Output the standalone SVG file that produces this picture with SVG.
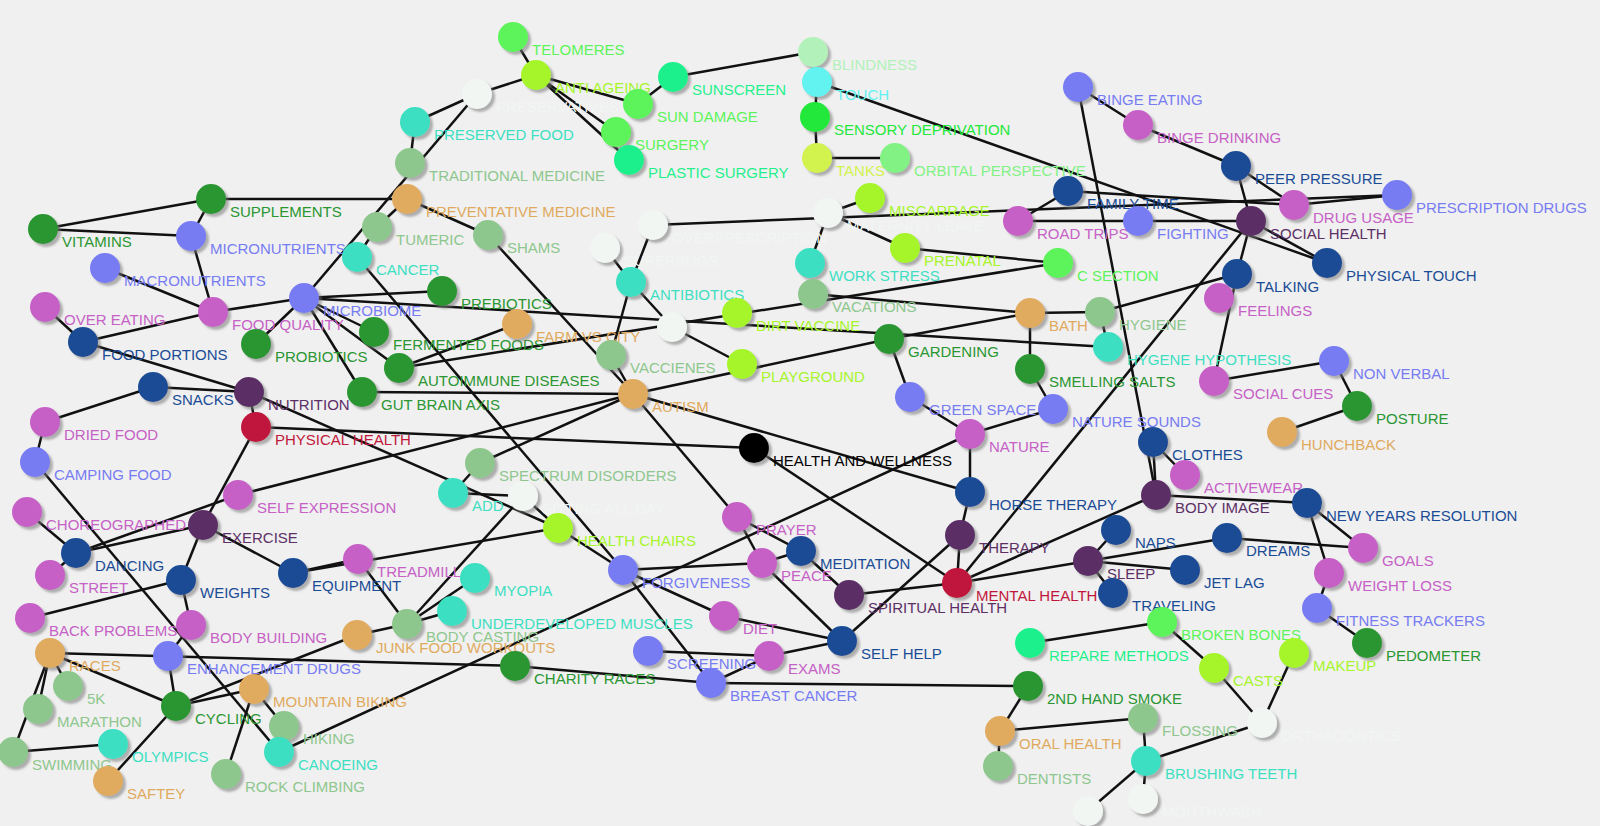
<svg xmlns="http://www.w3.org/2000/svg" width="1600" height="826" viewBox="0 0 1600 826">
<defs>
<filter id="sh" x="-50%" y="-50%" width="200%" height="200%"><feDropShadow dx="3" dy="3" stdDeviation="1.2" flood-color="#777" flood-opacity="0.55"/></filter>
</defs>
<style>
text{font-family:"Liberation Sans",Arial,sans-serif;font-size:15px}
circle{filter:url(#sh)}
#edges line{stroke:#111;stroke-width:2.5}
.dg{fill:#2a9632}.bv{fill:#777cf2}.mg{fill:#c661c6}.db{fill:#1a4c96}.pu{fill:#5c2f66}.cr{fill:#c0183c}
.tn{fill:#e0aa5e}.sg{fill:#8ec78e}.tq{fill:#3ddfc2}.yg{fill:#a6f52c}.bg{fill:#5cf45a}.mt{fill:#1ff08c}
.wh{fill:#f1f6f3}.pg{fill:#b2f2ba}.cy{fill:#62f2f0}.sd{fill:#22e83a}.ty{fill:#d2f24e}.op{fill:#82f285}.bk{fill:#000}
</style>
<rect width="1600" height="826" fill="#f0f0f0"/>
<g id="edges">
<line x1="43" y1="229" x2="211" y2="199"/>
<line x1="43" y1="229" x2="191" y2="236"/>
<line x1="211" y1="199" x2="191" y2="236"/>
<line x1="211" y1="199" x2="407" y2="199"/>
<line x1="191" y1="236" x2="213" y2="312"/>
<line x1="105" y1="268" x2="213" y2="312"/>
<line x1="304" y1="298" x2="477" y2="94"/>
<line x1="513" y1="37" x2="536" y2="75"/>
<line x1="477" y1="94" x2="536" y2="75"/>
<line x1="536" y1="75" x2="638" y2="104"/>
<line x1="536" y1="75" x2="616" y2="132"/>
<line x1="536" y1="75" x2="629" y2="160"/>
<line x1="638" y1="104" x2="673" y2="77"/>
<line x1="673" y1="77" x2="813" y2="52"/>
<line x1="477" y1="94" x2="415" y2="122"/>
<line x1="415" y1="122" x2="410" y2="163"/>
<line x1="377" y1="227" x2="407" y2="199"/>
<line x1="377" y1="227" x2="357" y2="257"/>
<line x1="407" y1="199" x2="488" y2="235"/>
<line x1="488" y1="235" x2="633" y2="394"/>
<line x1="357" y1="257" x2="623" y2="570"/>
<line x1="653" y1="225" x2="1397" y2="195"/>
<line x1="653" y1="225" x2="631" y2="282"/>
<line x1="605" y1="248" x2="631" y2="282"/>
<line x1="631" y1="282" x2="611" y2="355"/>
<line x1="631" y1="282" x2="672" y2="327"/>
<line x1="672" y1="327" x2="742" y2="364"/>
<line x1="611" y1="355" x2="633" y2="394"/>
<line x1="817" y1="82" x2="815" y2="117"/>
<line x1="815" y1="117" x2="817" y2="158"/>
<line x1="817" y1="158" x2="895" y2="158"/>
<line x1="817" y1="82" x2="1327" y2="263"/>
<line x1="828" y1="213" x2="870" y2="198"/>
<line x1="828" y1="213" x2="905" y2="248"/>
<line x1="828" y1="213" x2="810" y2="263"/>
<line x1="905" y1="248" x2="1058" y2="263"/>
<line x1="399" y1="368" x2="1058" y2="263"/>
<line x1="813" y1="294" x2="1030" y2="313"/>
<line x1="1030" y1="313" x2="1100" y2="312"/>
<line x1="1100" y1="312" x2="1237" y2="274"/>
<line x1="1100" y1="312" x2="1108" y2="347"/>
<line x1="1030" y1="313" x2="1030" y2="369"/>
<line x1="1030" y1="369" x2="1053" y2="409"/>
<line x1="1053" y1="409" x2="970" y2="434"/>
<line x1="910" y1="397" x2="970" y2="434"/>
<line x1="889" y1="339" x2="910" y2="397"/>
<line x1="633" y1="394" x2="889" y2="339"/>
<line x1="889" y1="339" x2="1030" y2="313"/>
<line x1="304" y1="298" x2="1108" y2="347"/>
<line x1="1068" y1="191" x2="1018" y2="221"/>
<line x1="1018" y1="221" x2="1138" y2="221"/>
<line x1="1068" y1="191" x2="1294" y2="205"/>
<line x1="1138" y1="221" x2="1251" y2="221"/>
<line x1="1078" y1="87" x2="1138" y2="125"/>
<line x1="1078" y1="87" x2="1156" y2="495"/>
<line x1="1138" y1="125" x2="1236" y2="166"/>
<line x1="1236" y1="166" x2="1294" y2="205"/>
<line x1="1236" y1="166" x2="1251" y2="221"/>
<line x1="1294" y1="205" x2="1397" y2="195"/>
<line x1="1251" y1="221" x2="1327" y2="263"/>
<line x1="1251" y1="221" x2="1237" y2="274"/>
<line x1="1251" y1="221" x2="957" y2="583"/>
<line x1="1237" y1="274" x2="1214" y2="381"/>
<line x1="1214" y1="381" x2="1334" y2="361"/>
<line x1="1334" y1="361" x2="1357" y2="406"/>
<line x1="1357" y1="406" x2="1282" y2="432"/>
<line x1="213" y1="312" x2="304" y2="298"/>
<line x1="213" y1="312" x2="83" y2="342"/>
<line x1="45" y1="307" x2="83" y2="342"/>
<line x1="304" y1="298" x2="442" y2="291"/>
<line x1="304" y1="298" x2="374" y2="332"/>
<line x1="304" y1="298" x2="399" y2="368"/>
<line x1="304" y1="298" x2="362" y2="392"/>
<line x1="304" y1="298" x2="256" y2="344"/>
<line x1="362" y1="392" x2="633" y2="394"/>
<line x1="83" y1="342" x2="249" y2="392"/>
<line x1="153" y1="387" x2="249" y2="392"/>
<line x1="153" y1="387" x2="45" y2="422"/>
<line x1="249" y1="392" x2="256" y2="427"/>
<line x1="249" y1="392" x2="558" y2="528"/>
<line x1="256" y1="427" x2="754" y2="448"/>
<line x1="256" y1="427" x2="203" y2="525"/>
<line x1="45" y1="422" x2="35" y2="462"/>
<line x1="35" y1="462" x2="279" y2="752"/>
<line x1="238" y1="495" x2="76" y2="553"/>
<line x1="238" y1="495" x2="633" y2="394"/>
<line x1="27" y1="512" x2="76" y2="553"/>
<line x1="203" y1="525" x2="76" y2="553"/>
<line x1="203" y1="525" x2="293" y2="573"/>
<line x1="203" y1="525" x2="181" y2="580"/>
<line x1="50" y1="575" x2="76" y2="553"/>
<line x1="181" y1="580" x2="30" y2="618"/>
<line x1="181" y1="580" x2="191" y2="625"/>
<line x1="293" y1="573" x2="358" y2="559"/>
<line x1="293" y1="573" x2="558" y2="528"/>
<line x1="358" y1="559" x2="407" y2="624"/>
<line x1="191" y1="625" x2="168" y2="656"/>
<line x1="50" y1="653" x2="515" y2="666"/>
<line x1="515" y1="666" x2="711" y2="683"/>
<line x1="50" y1="653" x2="176" y2="706"/>
<line x1="50" y1="653" x2="68" y2="686"/>
<line x1="50" y1="653" x2="38" y2="709"/>
<line x1="50" y1="653" x2="13" y2="752"/>
<line x1="168" y1="656" x2="176" y2="706"/>
<line x1="176" y1="706" x2="254" y2="689"/>
<line x1="176" y1="706" x2="357" y2="635"/>
<line x1="176" y1="706" x2="108" y2="781"/>
<line x1="254" y1="689" x2="284" y2="726"/>
<line x1="254" y1="689" x2="226" y2="774"/>
<line x1="13" y1="752" x2="113" y2="744"/>
<line x1="357" y1="635" x2="407" y2="624"/>
<line x1="970" y1="434" x2="279" y2="752"/>
<line x1="407" y1="624" x2="475" y2="578"/>
<line x1="407" y1="624" x2="452" y2="611"/>
<line x1="407" y1="624" x2="523" y2="496"/>
<line x1="558" y1="528" x2="623" y2="570"/>
<line x1="623" y1="570" x2="762" y2="563"/>
<line x1="623" y1="570" x2="724" y2="616"/>
<line x1="623" y1="570" x2="711" y2="683"/>
<line x1="648" y1="651" x2="769" y2="656"/>
<line x1="711" y1="683" x2="769" y2="656"/>
<line x1="711" y1="683" x2="1028" y2="686"/>
<line x1="724" y1="616" x2="842" y2="641"/>
<line x1="769" y1="656" x2="842" y2="641"/>
<line x1="762" y1="563" x2="842" y2="641"/>
<line x1="737" y1="517" x2="762" y2="563"/>
<line x1="737" y1="517" x2="801" y2="551"/>
<line x1="762" y1="563" x2="801" y2="551"/>
<line x1="633" y1="394" x2="737" y2="517"/>
<line x1="633" y1="394" x2="970" y2="492"/>
<line x1="801" y1="551" x2="849" y2="595"/>
<line x1="849" y1="595" x2="957" y2="583"/>
<line x1="754" y1="448" x2="957" y2="583"/>
<line x1="957" y1="583" x2="960" y2="535"/>
<line x1="957" y1="583" x2="1088" y2="561"/>
<line x1="957" y1="583" x2="1156" y2="495"/>
<line x1="842" y1="641" x2="960" y2="535"/>
<line x1="970" y1="492" x2="960" y2="535"/>
<line x1="970" y1="434" x2="970" y2="492"/>
<line x1="480" y1="463" x2="633" y2="394"/>
<line x1="453" y1="493" x2="480" y2="463"/>
<line x1="453" y1="493" x2="523" y2="496"/>
<line x1="523" y1="496" x2="558" y2="528"/>
<line x1="1153" y1="442" x2="1156" y2="495"/>
<line x1="1153" y1="442" x2="1185" y2="475"/>
<line x1="1156" y1="495" x2="1307" y2="503"/>
<line x1="1307" y1="503" x2="1363" y2="548"/>
<line x1="1307" y1="503" x2="1329" y2="573"/>
<line x1="1329" y1="573" x2="1317" y2="608"/>
<line x1="1317" y1="608" x2="1367" y2="643"/>
<line x1="1227" y1="538" x2="1363" y2="548"/>
<line x1="1088" y1="561" x2="1227" y2="538"/>
<line x1="1088" y1="561" x2="1185" y2="570"/>
<line x1="1088" y1="561" x2="1113" y2="593"/>
<line x1="1088" y1="561" x2="1116" y2="530"/>
<line x1="1030" y1="643" x2="1162" y2="622"/>
<line x1="1162" y1="622" x2="1214" y2="668"/>
<line x1="1028" y1="686" x2="1000" y2="731"/>
<line x1="1000" y1="731" x2="1143" y2="718"/>
<line x1="1000" y1="731" x2="998" y2="766"/>
<line x1="1143" y1="718" x2="1146" y2="761"/>
<line x1="1146" y1="761" x2="1262" y2="723"/>
<line x1="1146" y1="761" x2="1143" y2="799"/>
<line x1="1146" y1="761" x2="1088" y2="811"/>
<line x1="1214" y1="668" x2="1262" y2="723"/>
<line x1="1294" y1="653" x2="1262" y2="723"/>
<line x1="517" y1="324" x2="399" y2="368"/>
</g>
<g id="n-telomeres"><circle class="bg" cx="513" cy="37" r="15"/><text class="bg" x="532" y="55">TELOMERES</text></g>
<g id="n-preservatives"><circle class="wh" cx="477" cy="94" r="15"/><text class="wh" x="496" y="112">PRESERVATIVES</text></g>
<g id="n-antiageing"><circle class="yg" cx="536" cy="75" r="15"/><text class="yg" x="555" y="93">ANTI AGEING</text></g>
<g id="n-sunscreen"><circle class="mt" cx="673" cy="77" r="15"/><text class="mt" x="692" y="95">SUNSCREEN</text></g>
<g id="n-sundamage"><circle class="bg" cx="638" cy="104" r="15"/><text class="bg" x="657" y="122">SUN DAMAGE</text></g>
<g id="n-surgery"><circle class="bg" cx="616" cy="132" r="15"/><text class="bg" x="635" y="150">SURGERY</text></g>
<g id="n-plasticsurgery"><circle class="mt" cx="629" cy="160" r="15"/><text class="mt" x="648" y="178">PLASTIC SURGERY</text></g>
<g id="n-blindness"><circle class="pg" cx="813" cy="52" r="15"/><text class="pg" x="832" y="70">BLINDNESS</text></g>
<g id="n-touch"><circle class="cy" cx="817" cy="82" r="15"/><text class="cy" x="836" y="100">TOUCH</text></g>
<g id="n-sensory"><circle class="sd" cx="815" cy="117" r="15"/><text class="sd" x="834" y="135">SENSORY DEPRIVATION</text></g>
<g id="n-tanks"><circle class="ty" cx="817" cy="158" r="15"/><text class="ty" x="836" y="176">TANKS</text></g>
<g id="n-orbital"><circle class="op" cx="895" cy="158" r="15"/><text class="op" x="914" y="176">ORBITAL PERSPECTIVE</text></g>
<g id="n-preservedfood"><circle class="tq" cx="415" cy="122" r="15"/><text class="tq" x="434" y="140">PRESERVED FOOD</text></g>
<g id="n-tradmed"><circle class="sg" cx="410" cy="163" r="15"/><text class="sg" x="429" y="181">TRADITIONAL MEDICINE</text></g>
<g id="n-prevmed"><circle class="tn" cx="407" cy="199" r="15"/><text class="tn" x="426" y="217">PREVENTATIVE MEDICINE</text></g>
<g id="n-supplements"><circle class="dg" cx="211" cy="199" r="15"/><text class="dg" x="230" y="217">SUPPLEMENTS</text></g>
<g id="n-vitamins"><circle class="dg" cx="43" cy="229" r="15"/><text class="dg" x="62" y="247">VITAMINS</text></g>
<g id="n-micronutrients"><circle class="bv" cx="191" cy="236" r="15"/><text class="bv" x="210" y="254">MICRONUTRIENTS</text></g>
<g id="n-tumeric"><circle class="sg" cx="377" cy="227" r="15"/><text class="sg" x="396" y="245">TUMERIC</text></g>
<g id="n-shams"><circle class="sg" cx="488" cy="235" r="15"/><text class="sg" x="507" y="253">SHAMS</text></g>
<g id="n-macronutrients"><circle class="bv" cx="105" cy="268" r="15"/><text class="bv" x="124" y="286">MACRONUTRIENTS</text></g>
<g id="n-cancer"><circle class="tq" cx="357" cy="257" r="15"/><text class="tq" x="376" y="275">CANCER</text></g>
<g id="n-overprescription"><circle class="wh" cx="653" cy="225" r="15"/><text class="wh" x="672" y="243">OVERPRESCRIPTION</text></g>
<g id="n-superbugs"><circle class="wh" cx="605" cy="248" r="15"/><text class="wh" x="624" y="266">SUPERBUGS</text></g>
<g id="n-antibiotics"><circle class="tq" cx="631" cy="282" r="15"/><text class="tq" x="650" y="300">ANTIBIOTICS</text></g>
<g id="n-maternity"><circle class="wh" cx="828" cy="213" r="15"/><text class="wh" x="847" y="231">MATERNITY LEAVE</text></g>
<g id="n-miscarrage"><circle class="yg" cx="870" cy="198" r="15"/><text class="yg" x="889" y="216">MISCARRAGE</text></g>
<g id="n-prenatal"><circle class="yg" cx="905" cy="248" r="15"/><text class="yg" x="924" y="266">PRENATAL</text></g>
<g id="n-csection"><circle class="bg" cx="1058" cy="263" r="15"/><text class="bg" x="1077" y="281">C SECTION</text></g>
<g id="n-workstress"><circle class="tq" cx="810" cy="263" r="15"/><text class="tq" x="829" y="281">WORK STRESS</text></g>
<g id="n-familytime"><circle class="db" cx="1068" cy="191" r="15"/><text class="db" x="1087" y="209">FAMILY TIME</text></g>
<g id="n-roadtrips"><circle class="mg" cx="1018" cy="221" r="15"/><text class="mg" x="1037" y="239">ROAD TRIPS</text></g>
<g id="n-fighting"><circle class="bv" cx="1138" cy="221" r="15"/><text class="bv" x="1157" y="239">FIGHTING</text></g>
<g id="n-bingeeating"><circle class="bv" cx="1078" cy="87" r="15"/><text class="bv" x="1097" y="105">BINGE EATING</text></g>
<g id="n-bingedrinking"><circle class="mg" cx="1138" cy="125" r="15"/><text class="mg" x="1157" y="143">BINGE DRINKING</text></g>
<g id="n-peerpressure"><circle class="db" cx="1236" cy="166" r="15"/><text class="db" x="1255" y="184">PEER PRESSURE</text></g>
<g id="n-drugusage"><circle class="mg" cx="1294" cy="205" r="15"/><text class="mg" x="1313" y="223">DRUG USAGE</text></g>
<g id="n-prescription"><circle class="bv" cx="1397" cy="195" r="15"/><text class="bv" x="1416" y="213">PRESCRIPTION DRUGS</text></g>
<g id="n-socialhealth"><circle class="pu" cx="1251" cy="221" r="15"/><text class="pu" x="1270" y="239">SOCIAL HEALTH</text></g>
<g id="n-physicaltouch"><circle class="db" cx="1327" cy="263" r="15"/><text class="db" x="1346" y="281">PHYSICAL TOUCH</text></g>
<g id="n-talking"><circle class="db" cx="1237" cy="274" r="15"/><text class="db" x="1256" y="292">TALKING</text></g>
<g id="n-overeating"><circle class="mg" cx="45" cy="307" r="15"/><text class="mg" x="64" y="325">OVER EATING</text></g>
<g id="n-foodquality"><circle class="mg" cx="213" cy="312" r="15"/><text class="mg" x="232" y="330">FOOD QUALITY</text></g>
<g id="n-microbiome"><circle class="bv" cx="304" cy="298" r="15"/><text class="bv" x="323" y="316">MICROBIOME</text></g>
<g id="n-fermented"><circle class="dg" cx="374" cy="332" r="15"/><text class="dg" x="393" y="350">FERMENTED FOODS</text></g>
<g id="n-probiotics"><circle class="dg" cx="256" cy="344" r="15"/><text class="dg" x="275" y="362">PROBIOTICS</text></g>
<g id="n-foodportions"><circle class="db" cx="83" cy="342" r="15"/><text class="db" x="102" y="360">FOOD PORTIONS</text></g>
<g id="n-snacks"><circle class="db" cx="153" cy="387" r="15"/><text class="db" x="172" y="405">SNACKS</text></g>
<g id="n-nutrition"><circle class="pu" cx="249" cy="392" r="15"/><text class="pu" x="268" y="410">NUTRITION</text></g>
<g id="n-gutbrain"><circle class="dg" cx="362" cy="392" r="15"/><text class="dg" x="381" y="410">GUT BRAIN AXIS</text></g>
<g id="n-autoimmune"><circle class="dg" cx="399" cy="368" r="15"/><text class="dg" x="418" y="386">AUTOIMMUNE DISEASES</text></g>
<g id="n-physicalhealth"><circle class="cr" cx="256" cy="427" r="15"/><text class="cr" x="275" y="445">PHYSICAL HEALTH</text></g>
<g id="n-driedfood"><circle class="mg" cx="45" cy="422" r="15"/><text class="mg" x="64" y="440">DRIED FOOD</text></g>
<g id="n-campingfood"><circle class="bv" cx="35" cy="462" r="15"/><text class="bv" x="54" y="480">CAMPING FOOD</text></g>
<g id="n-selfexpression"><circle class="mg" cx="238" cy="495" r="15"/><text class="mg" x="257" y="513">SELF EXPRESSION</text></g>
<g id="n-choreographed"><circle class="mg" cx="27" cy="512" r="15"/><text class="mg" x="46" y="530">CHOREOGRAPHED</text></g>
<g id="n-exercise"><circle class="pu" cx="203" cy="525" r="15"/><text class="pu" x="222" y="543">EXERCISE</text></g>
<g id="n-dancing"><circle class="db" cx="76" cy="553" r="15"/><text class="db" x="95" y="571">DANCING</text></g>
<g id="n-street"><circle class="mg" cx="50" cy="575" r="15"/><text class="mg" x="69" y="593">STREET</text></g>
<g id="n-weights"><circle class="db" cx="181" cy="580" r="15"/><text class="db" x="200" y="598">WEIGHTS</text></g>
<g id="n-equipment"><circle class="db" cx="293" cy="573" r="15"/><text class="db" x="312" y="591">EQUIPMENT</text></g>
<g id="n-treadmill"><circle class="mg" cx="358" cy="559" r="15"/><text class="mg" x="377" y="577">TREADMILL</text></g>
<g id="n-backproblems"><circle class="mg" cx="30" cy="618" r="15"/><text class="mg" x="49" y="636">BACK PROBLEMS</text></g>
<g id="n-bodybuilding"><circle class="mg" cx="191" cy="625" r="15"/><text class="mg" x="210" y="643">BODY BUILDING</text></g>
<g id="n-races"><circle class="tn" cx="50" cy="653" r="15"/><text class="tn" x="69" y="671">RACES</text></g>
<g id="n-enhancement"><circle class="bv" cx="168" cy="656" r="15"/><text class="bv" x="187" y="674">ENHANCEMENT DRUGS</text></g>
<g id="n-junkfood"><circle class="tn" cx="357" cy="635" r="15"/><text class="tn" x="376" y="653">JUNK FOOD WORKOUTS</text></g>
<g id="n-fivek"><circle class="sg" cx="68" cy="686" r="15"/><text class="sg" x="87" y="704">5K</text></g>
<g id="n-marathon"><circle class="sg" cx="38" cy="709" r="15"/><text class="sg" x="57" y="727">MARATHON</text></g>
<g id="n-cycling"><circle class="dg" cx="176" cy="706" r="15"/><text class="dg" x="195" y="724">CYCLING</text></g>
<g id="n-mountainbiking"><circle class="tn" cx="254" cy="689" r="15"/><text class="tn" x="273" y="707">MOUNTAIN BIKING</text></g>
<g id="n-hiking"><circle class="sg" cx="284" cy="726" r="15"/><text class="sg" x="303" y="744">HIKING</text></g>
<g id="n-canoeing"><circle class="tq" cx="279" cy="752" r="15"/><text class="tq" x="298" y="770">CANOEING</text></g>
<g id="n-swimming"><circle class="sg" cx="13" cy="752" r="15"/><text class="sg" x="32" y="770">SWIMMING</text></g>
<g id="n-olympics"><circle class="tq" cx="113" cy="744" r="15"/><text class="tq" x="132" y="762">OLYMPICS</text></g>
<g id="n-saftey"><circle class="tn" cx="108" cy="781" r="15"/><text class="tn" x="127" y="799">SAFTEY</text></g>
<g id="n-rockclimbing"><circle class="sg" cx="226" cy="774" r="15"/><text class="sg" x="245" y="792">ROCK CLIMBING</text></g>
<g id="n-bodycasting"><circle class="sg" cx="407" cy="624" r="15"/><text class="sg" x="426" y="642">BODY CASTING</text></g>
<g id="n-myopia"><circle class="tq" cx="475" cy="578" r="15"/><text class="tq" x="494" y="596">MYOPIA</text></g>
<g id="n-underdeveloped"><circle class="tq" cx="452" cy="611" r="15"/><text class="tq" x="471" y="629">UNDERDEVELOPED MUSCLES</text></g>
<g id="n-forgiveness"><circle class="bv" cx="623" cy="570" r="15"/><text class="bv" x="642" y="588">FORGIVENESS</text></g>
<g id="n-diet"><circle class="mg" cx="724" cy="616" r="15"/><text class="mg" x="743" y="634">DIET</text></g>
<g id="n-screening"><circle class="bv" cx="648" cy="651" r="15"/><text class="bv" x="667" y="669">SCREENING</text></g>
<g id="n-exams"><circle class="mg" cx="769" cy="656" r="15"/><text class="mg" x="788" y="674">EXAMS</text></g>
<g id="n-breastcancer"><circle class="bv" cx="711" cy="683" r="15"/><text class="bv" x="730" y="701">BREAST CANCER</text></g>
<g id="n-charityraces"><circle class="dg" cx="515" cy="666" r="15"/><text class="dg" x="534" y="684">CHARITY RACES</text></g>
<g id="n-peace"><circle class="mg" cx="762" cy="563" r="15"/><text class="mg" x="781" y="581">PEACE</text></g>
<g id="n-prebiotics"><circle class="dg" cx="442" cy="291" r="15"/><text class="dg" x="461" y="309">PREBIOTICS</text></g>
<g id="n-farmvscity"><circle class="tn" cx="517" cy="324" r="15"/><text class="tn" x="536" y="342">FARM VS CITY</text></g>
<g id="n-dirtvaccine"><circle class="yg" cx="737" cy="313" r="15"/><text class="yg" x="756" y="331">DIRT VACCINE</text></g>
<g id="n-vaccienes"><circle class="sg" cx="611" cy="355" r="15"/><text class="sg" x="630" y="373">VACCIENES</text></g>
<g id="n-autism"><circle class="tn" cx="633" cy="394" r="15"/><text class="tn" x="652" y="412">AUTISM</text></g>
<g id="n-playground"><circle class="yg" cx="742" cy="364" r="15"/><text class="yg" x="761" y="382">PLAYGROUND</text></g>
<g id="n-whitenode"><circle class="wh" cx="672" cy="327" r="15"/></g>
<g id="n-hw"><circle class="bk" cx="754" cy="448" r="15"/><text class="bk" x="773" y="466">HEALTH AND WELLNESS</text></g>
<g id="n-spectrum"><circle class="sg" cx="480" cy="463" r="15"/><text class="sg" x="499" y="481">SPECTRUM DISORDERS</text></g>
<g id="n-add"><circle class="tq" cx="453" cy="493" r="15"/><text class="tq" x="472" y="511">ADD</text></g>
<g id="n-sitting"><circle class="wh" cx="523" cy="496" r="15"/><text class="wh" x="542" y="514">SITTING ALL DAY</text></g>
<g id="n-healthchairs"><circle class="yg" cx="558" cy="528" r="15"/><text class="yg" x="577" y="546">HEALTH CHAIRS</text></g>
<g id="n-prayer"><circle class="mg" cx="737" cy="517" r="15"/><text class="mg" x="756" y="535">PRAYER</text></g>
<g id="n-vacations"><circle class="sg" cx="813" cy="294" r="15"/><text class="sg" x="832" y="312">VACATIONS</text></g>
<g id="n-bath"><circle class="tn" cx="1030" cy="313" r="15"/><text class="tn" x="1049" y="331">BATH</text></g>
<g id="n-hygiene"><circle class="sg" cx="1100" cy="312" r="15"/><text class="sg" x="1119" y="330">HYGIENE</text></g>
<g id="n-hygenehyp"><circle class="tq" cx="1108" cy="347" r="15"/><text class="tq" x="1127" y="365">HYGENE HYPOTHESIS</text></g>
<g id="n-gardening"><circle class="dg" cx="889" cy="339" r="15"/><text class="dg" x="908" y="357">GARDENING</text></g>
<g id="n-smellingsalts"><circle class="dg" cx="1030" cy="369" r="15"/><text class="dg" x="1049" y="387">SMELLING SALTS</text></g>
<g id="n-greenspace"><circle class="bv" cx="910" cy="397" r="15"/><text class="bv" x="929" y="415">GREEN SPACE</text></g>
<g id="n-naturesounds"><circle class="bv" cx="1053" cy="409" r="15"/><text class="bv" x="1072" y="427">NATURE SOUNDS</text></g>
<g id="n-nature"><circle class="mg" cx="970" cy="434" r="15"/><text class="mg" x="989" y="452">NATURE</text></g>
<g id="n-horsetherapy"><circle class="db" cx="970" cy="492" r="15"/><text class="db" x="989" y="510">HORSE THERAPY</text></g>
<g id="n-therapy"><circle class="pu" cx="960" cy="535" r="15"/><text class="pu" x="979" y="553">THERAPY</text></g>
<g id="n-clothes"><circle class="db" cx="1153" cy="442" r="15"/><text class="db" x="1172" y="460">CLOTHES</text></g>
<g id="n-activewear"><circle class="mg" cx="1185" cy="475" r="15"/><text class="mg" x="1204" y="493">ACTIVEWEAR</text></g>
<g id="n-bodyimage"><circle class="pu" cx="1156" cy="495" r="15"/><text class="pu" x="1175" y="513">BODY IMAGE</text></g>
<g id="n-naps"><circle class="db" cx="1116" cy="530" r="15"/><text class="db" x="1135" y="548">NAPS</text></g>
<g id="n-feelings"><circle class="mg" cx="1219" cy="298" r="15"/><text class="mg" x="1238" y="316">FEELINGS</text></g>
<g id="n-socialcues"><circle class="mg" cx="1214" cy="381" r="15"/><text class="mg" x="1233" y="399">SOCIAL CUES</text></g>
<g id="n-nonverbal"><circle class="bv" cx="1334" cy="361" r="15"/><text class="bv" x="1353" y="379">NON VERBAL</text></g>
<g id="n-posture"><circle class="dg" cx="1357" cy="406" r="15"/><text class="dg" x="1376" y="424">POSTURE</text></g>
<g id="n-hunchback"><circle class="tn" cx="1282" cy="432" r="15"/><text class="tn" x="1301" y="450">HUNCHBACK</text></g>
<g id="n-newyears"><circle class="db" cx="1307" cy="503" r="15"/><text class="db" x="1326" y="521">NEW YEARS RESOLUTION</text></g>
<g id="n-dreams"><circle class="db" cx="1227" cy="538" r="15"/><text class="db" x="1246" y="556">DREAMS</text></g>
<g id="n-goals"><circle class="mg" cx="1363" cy="548" r="15"/><text class="mg" x="1382" y="566">GOALS</text></g>
<g id="n-meditation"><circle class="db" cx="801" cy="551" r="15"/><text class="db" x="820" y="569">MEDITATION</text></g>
<g id="n-spiritual"><circle class="pu" cx="849" cy="595" r="15"/><text class="pu" x="868" y="613">SPIRITUAL HEALTH</text></g>
<g id="n-mental"><circle class="cr" cx="957" cy="583" r="15"/><text class="cr" x="976" y="601">MENTAL HEALTH</text></g>
<g id="n-sleep"><circle class="pu" cx="1088" cy="561" r="15"/><text class="pu" x="1107" y="579">SLEEP</text></g>
<g id="n-jetlag"><circle class="db" cx="1185" cy="570" r="15"/><text class="db" x="1204" y="588">JET LAG</text></g>
<g id="n-traveling"><circle class="db" cx="1113" cy="593" r="15"/><text class="db" x="1132" y="611">TRAVELING</text></g>
<g id="n-selfhelp"><circle class="db" cx="842" cy="641" r="15"/><text class="db" x="861" y="659">SELF HELP</text></g>
<g id="n-brokenbones"><circle class="bg" cx="1162" cy="622" r="15"/><text class="bg" x="1181" y="640">BROKEN BONES</text></g>
<g id="n-repare"><circle class="mt" cx="1030" cy="643" r="15"/><text class="mt" x="1049" y="661">REPARE METHODS</text></g>
<g id="n-secondhand"><circle class="dg" cx="1028" cy="686" r="15"/><text class="dg" x="1047" y="704">2ND HAND SMOKE</text></g>
<g id="n-oralhealth"><circle class="tn" cx="1000" cy="731" r="15"/><text class="tn" x="1019" y="749">ORAL HEALTH</text></g>
<g id="n-flossing"><circle class="sg" cx="1143" cy="718" r="15"/><text class="sg" x="1162" y="736">FLOSSING</text></g>
<g id="n-dentists"><circle class="sg" cx="998" cy="766" r="15"/><text class="sg" x="1017" y="784">DENTISTS</text></g>
<g id="n-brushing"><circle class="tq" cx="1146" cy="761" r="15"/><text class="tq" x="1165" y="779">BRUSHING TEETH</text></g>
<g id="n-mouthwash"><circle class="wh" cx="1143" cy="799" r="15"/><text class="wh" x="1162" y="817">MOUTHWASH</text></g>
<g id="n-bottomwhite"><circle class="wh" cx="1088" cy="811" r="15"/></g>
<g id="n-weightloss"><circle class="mg" cx="1329" cy="573" r="15"/><text class="mg" x="1348" y="591">WEIGHT LOSS</text></g>
<g id="n-fitness"><circle class="bv" cx="1317" cy="608" r="15"/><text class="bv" x="1336" y="626">FITNESS TRACKERS</text></g>
<g id="n-pedometer"><circle class="dg" cx="1367" cy="643" r="15"/><text class="dg" x="1386" y="661">PEDOMETER</text></g>
<g id="n-makeup"><circle class="yg" cx="1294" cy="653" r="15"/><text class="yg" x="1313" y="671">MAKEUP</text></g>
<g id="n-casts"><circle class="yg" cx="1214" cy="668" r="15"/><text class="yg" x="1233" y="686">CASTS</text></g>
<g id="n-orthadontics"><circle class="wh" cx="1262" cy="723" r="15"/><text class="wh" x="1281" y="741">ORTHADONTICS</text></g>
</svg>
